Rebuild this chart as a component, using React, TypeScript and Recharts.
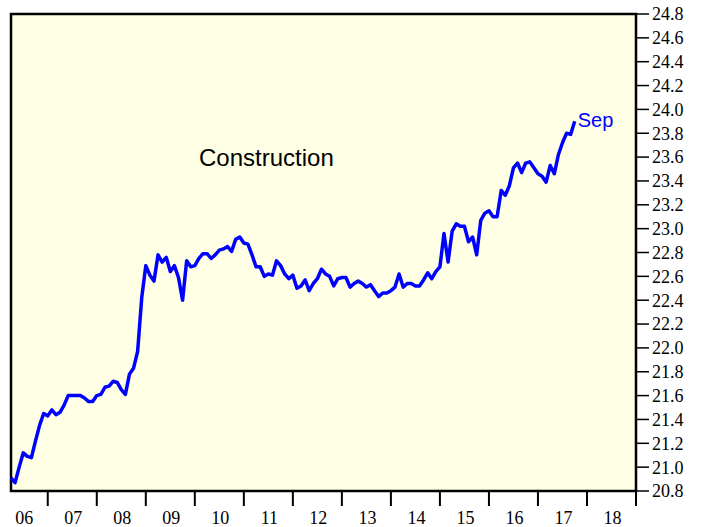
import React from "react";
import {
  LineChart,
  Line,
  XAxis,
  YAxis,
  CartesianGrid,
  ReferenceArea,
} from "recharts";

// monthly values, Mar 2006 .. Sep 2017
const y2006 = [20.91, 20.87, 21.0, 21.12, 21.09, 21.08, 21.22, 21.35, 21.45, 21.43];
const y2007 = [21.48, 21.44, 21.46, 21.52, 21.6, 21.6, 21.6, 21.6, 21.58, 21.55, 21.55, 21.6];
const y2008 = [21.61, 21.67, 21.68, 21.72, 21.71, 21.65, 21.61, 21.78, 21.83, 21.97, 22.42, 22.69];
const y2009 = [22.61, 22.56, 22.78, 22.72, 22.76, 22.64, 22.69, 22.59, 22.4, 22.73, 22.68, 22.69];
const y2010 = [22.75, 22.79, 22.79, 22.75, 22.78, 22.82, 22.83, 22.85, 22.81, 22.91, 22.93, 22.88];
const y2011 = [22.87, 22.78, 22.68, 22.68, 22.6, 22.62, 22.61, 22.73, 22.69, 22.62, 22.58, 22.61];
const y2012 = [22.5, 22.52, 22.57, 22.48, 22.54, 22.58, 22.66, 22.62, 22.6, 22.52, 22.58, 22.59];
const y2013 = [22.59, 22.51, 22.54, 22.56, 22.54, 22.51, 22.53, 22.48, 22.43, 22.46, 22.46, 22.48];
const y2014 = [22.51, 22.62, 22.51, 22.54, 22.54, 22.52, 22.52, 22.57, 22.63, 22.58, 22.64, 22.68];
const y2015 = [22.96, 22.72, 22.98, 23.04, 23.02, 23.02, 22.89, 22.93, 22.78, 23.07, 23.13, 23.15];
const y2016 = [23.1, 23.1, 23.32, 23.28, 23.36, 23.51, 23.55, 23.47, 23.55, 23.56, 23.51, 23.46];
const y2017 = [23.44, 23.39, 23.53, 23.46, 23.62, 23.72, 23.8, 23.79, 23.9];

const startYear = 2006;
const startMonth = 3; // March
const values = [
  ...y2006, ...y2007, ...y2008, ...y2009, ...y2010, ...y2011,
  ...y2012, ...y2013, ...y2014, ...y2015, ...y2016, ...y2017,
];

const yTicks = [
  20.8, 21.0, 21.2, 21.4, 21.6, 21.8, 22.0, 22.2, 22.4, 22.6, 22.8,
  23.0, 23.2, 23.4, 23.6, 23.8, 24.0, 24.2, 24.4, 24.6, 24.8,
];
const yearLines = [2007, 2008, 2009, 2010, 2011, 2012, 2013, 2014, 2015, 2016, 2017, 2018, 2019];
const yearLabels = [2006, 2007, 2008, 2009, 2010, 2011, 2012, 2013, 2014, 2015, 2016, 2017, 2018];

// each point sits at the end of its month
const data = values.map((v, i) => ({
  t: startYear + (startMonth + i) / 12,
  v,
}));
const xMin = data[0].t;
const xMax = 2019;

const serif = "'Liberation Serif', 'Times New Roman', serif";
const sans = "'Liberation Sans', Arial, sans-serif";

const XTick = (props: any) => {
  const { x, y, payload } = props;
  const val = payload.value;
  if (Number.isInteger(val)) {
    return <line x1={x} x2={x} y1={y} y2={y + 15} stroke="#000" strokeWidth={2} />;
  }
  const yr = Math.floor(val) % 100;
  return (
    <text x={x + 1} y={y + 33} textAnchor="middle" fontFamily={serif} fontSize={18} fill="#000">
      {String(yr).padStart(2, "0")}
    </text>
  );
};

const SepLabel = (props: any) => {
  const { x, y, index } = props;
  if (index !== data.length - 1) return null;
  return (
    <text x={x + 3} y={y + 6} fontFamily={sans} fontSize={20} fill="#0000ff">
      Sep
    </text>
  );
};

export default function App() {
  const xTicks = [...yearLabels.map((y) => y + 0.5), ...yearLines].sort((a, b) => a - b);
  return (
    <div style={{ position: "absolute", left: 0, top: 0, width: 711, height: 527, background: "#fff" }}>
      <LineChart
        width={711}
        height={527}
        data={data}
        margin={{ top: 14, right: 0, bottom: 0, left: 11 }}
      >
        <CartesianGrid horizontal={false} vertical={false} fill="#ffffe6" xAxisId="x" yAxisId="y" />
        <XAxis
          xAxisId="x"
          dataKey="t"
          type="number"
          domain={[xMin, xMax]}
          ticks={xTicks}
          interval={0}
          height={36}
          tickSize={0}
          tickMargin={0}
          tickLine={false}
          axisLine={false}
          tick={<XTick />}
        />
        <YAxis
          yAxisId="y"
          orientation="right"
          type="number"
          domain={[20.8, 24.8]}
          ticks={yTicks}
          interval={0}
          width={75}
          tickSize={13}
          tickMargin={3}
          axisLine={false}
          tickLine={{ stroke: "#000", strokeWidth: 1.5 }}
          tickFormatter={(v: number) => v.toFixed(1)}
          tick={{ fill: "#000", fontFamily: serif, fontSize: 18 }}
        />
        <Line
          xAxisId="x"
          yAxisId="y"
          type="linear"
          dataKey="v"
          stroke="#0000ff"
          strokeWidth={3.5}
          strokeLinejoin="round"
          dot={false}
          isAnimationActive={false}
          label={<SepLabel />}
        />
        <ReferenceArea
          xAxisId="x"
          yAxisId="y"
          x1={xMin}
          x2={xMax}
          y1={20.8}
          y2={24.8}
          fill="none"
          stroke="#000"
          strokeWidth={2.5}
          ifOverflow="visible"
        />
      </LineChart>
      <div
        style={{
          position: "absolute",
          left: 199,
          top: 146,
          fontFamily: sans,
          fontSize: 24,
          lineHeight: "24px",
          color: "#000",
          whiteSpace: "nowrap",
        }}
      >
        Construction
      </div>
    </div>
  );
}
